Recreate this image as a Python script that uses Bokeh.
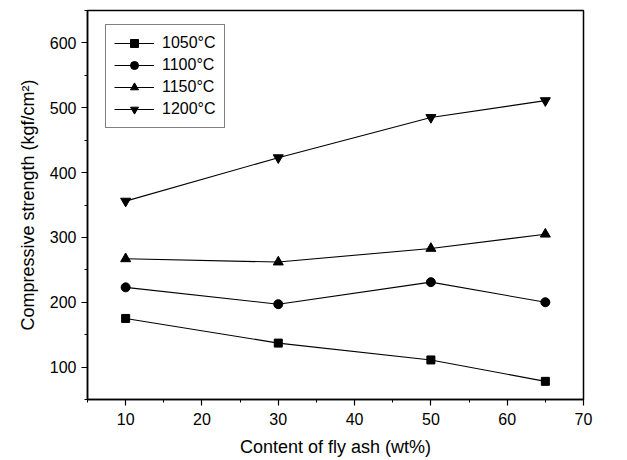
from bokeh.plotting import figure
from bokeh.embed import file_html
from bokeh.resources import INLINE
from bokeh.models import Range1d, FixedTicker, Legend, LegendItem

fly_ash = [10, 30, 50, 65]
s1050 = [175, 137, 111, 78]
s1100 = [223, 197, 231, 200]
s1150 = [267, 262, 283, 305]
s1200 = [356, 423, 485, 511]
labels = ["1050°C", "1100°C", "1150°C", "1200°C"]
x_ticks = [10, 20, 30, 40, 50, 60, 70]
y_ticks = [100, 200, 300, 400, 500, 600]

FONT = "Liberation Sans"

p = figure(width=620, height=460, output_backend="svg", toolbar_location=None,
           x_range=Range1d(5, 70), y_range=Range1d(50, 650),
           min_border_left=87, min_border_right=37, min_border_top=10, min_border_bottom=61)
p.background_fill_color = "white"
p.border_fill_color = "white"
p.grid.visible = False
p.outline_line_color = "black"
p.outline_line_width = 1.5

for ax in (p.xaxis[0], p.yaxis[0]):
    ax.axis_line_width = 1.5
    ax.axis_line_color = "black"
    ax.major_tick_line_color = "black"
    ax.minor_tick_line_color = "black"
    ax.major_tick_line_width = 1.2
    ax.minor_tick_line_width = 1.0
    ax.major_tick_out = 6
    ax.major_tick_in = 0
    ax.minor_tick_out = 3
    ax.minor_tick_in = 0
    ax.major_label_text_font = FONT
    ax.major_label_text_font_size = "16px"
    ax.major_label_text_color = "black"
    ax.axis_label_text_font = FONT
    ax.axis_label_text_font_size = "18px"
    ax.axis_label_text_font_style = "normal"
    ax.axis_label_text_color = "black"

p.xaxis.ticker = FixedTicker(ticks=x_ticks, minor_ticks=[5, 15, 25, 35, 45, 55, 65])
p.yaxis.ticker = FixedTicker(ticks=y_ticks, minor_ticks=[50, 150, 250, 350, 450, 550, 650])
p.xaxis.axis_label = "Content of fly ash (wt%)"
p.yaxis.axis_label = "Compressive strength (kgf/cm²)"
p.xaxis.major_label_standoff = 7
p.yaxis.major_label_standoff = 5
p.xaxis.axis_label_standoff = 9
p.yaxis.axis_label_standoff = 9

series = [s1050, s1100, s1150, s1200]
markers = ["square", "circle", "triangle", "inverted_triangle"]
sizes = [8, 9, 10, 10]
items = []
for vals, mk, sz, lab in zip(series, markers, sizes, labels):
    l = p.line(fly_ash, vals, line_color="black", line_width=1.1)
    s = p.scatter(fly_ash, vals, marker=mk, size=sz, fill_color="black", line_color="black")
    items.append(LegendItem(label=lab, renderers=[l, s]))

legend = Legend(items=items, location=(18, 271))
legend.border_line_color = "black"
legend.border_line_width = 1.2
legend.background_fill_alpha = 1
legend.label_text_font = FONT
legend.label_text_font_size = "16px"
legend.label_text_color = "black"
legend.glyph_width = 40
legend.glyph_height = 20
legend.label_height = 20
legend.label_standoff = 8
legend.spacing = 2
legend.padding = 8
legend.margin = 0
p.add_layout(legend, "center")

open("out.html", "w").write(file_html(p, INLINE))
